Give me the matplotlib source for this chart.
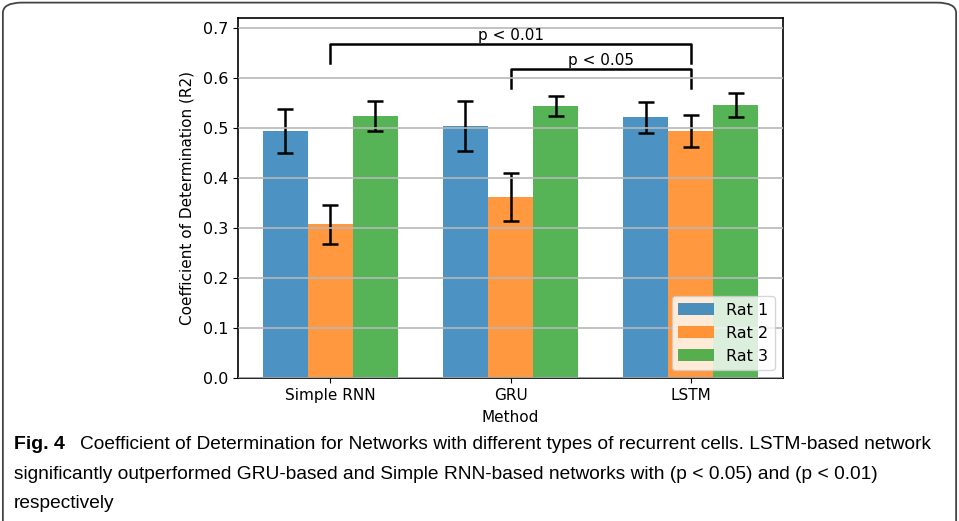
import numpy as np
import matplotlib
matplotlib.use("Agg")
import matplotlib.pyplot as plt
from matplotlib.patches import FancyBboxPatch

methods = ["Simple RNN", "GRU", "LSTM"]
rats = ["Rat 1", "Rat 2", "Rat 3"]
r2_mean = [
    [0.493, 0.504, 0.521],   # Rat 1
    [0.307, 0.361, 0.494],   # Rat 2
    [0.523, 0.544, 0.545],   # Rat 3
]
r2_err = [
    [0.044, 0.050, 0.031],
    [0.039, 0.048, 0.032],
    [0.030, 0.020, 0.024],
]
colors = ["#1f77b4", "#ff7f0e", "#2ca02c"]

fig = plt.figure(figsize=(9.59, 5.21), dpi=100)
ax = fig.add_axes([0.2482, 0.2745, 0.5683, 0.691])

x = np.arange(len(methods))
width = 0.25
for i, rat in enumerate(rats):
    ax.bar(x + (i - 1) * width, r2_mean[i], width, yerr=r2_err[i],
           color=colors[i], alpha=0.8, label=rat, capsize=5.5,
           error_kw=dict(elinewidth=1.8, capthick=1.8, ecolor="black"))

ax.set_ylim(0, 0.72)
ax.set_xticks(x)
ax.set_xticklabels(methods, fontsize=11, family="DejaVu Sans")
ax.tick_params(axis="y", labelsize=11.5)
ax.set_xlabel("Method", fontsize=11, labelpad=5, family="DejaVu Sans")
ax.set_ylabel("Coefficient of Determination (R2)", fontsize=11, labelpad=6, family="DejaVu Sans")
ax.yaxis.grid(True, color="#b8b8b8", linewidth=1.2)
ax.set_axisbelow(False)
for s in ax.spines.values():
    s.set_linewidth(1.2)

# significance brackets
def bracket(x0, x1, y, yl, yr, text):
    ax.plot([x0, x0, x1, x1], [yl, y, y, yr], color="black", lw=1.8)
    ax.text((x0 + x1) / 2, y + 0.002, text, ha="center", va="bottom", fontsize=11)

bracket(0, 2, 0.667, 0.630, 0.630, "p < 0.01")
bracket(1, 2, 0.617, 0.579, 0.579, "p < 0.05")

ax.legend(loc="lower right", fontsize=11.5, handlelength=2.2)

# figure frame and caption
frame = FancyBboxPatch((0.003, -0.02), 0.994, 1.015, boxstyle="round,pad=0,rounding_size=0.02",
                       transform=fig.transFigure, fill=False, edgecolor="#444444", lw=1.3)
fig.patches.append(frame)

cap_font = ["Liberation Sans", "DejaVu Sans"]
fig.text(0.0146, 0.146, "Fig. 4", fontsize=14, fontweight="bold", family=cap_font, va="center")
fig.text(0.0834, 0.146,
         "Coefficient of Determination for Networks with different types of recurrent cells. LSTM-based network",
         fontsize=13.8, family=cap_font, va="center")
fig.text(0.0146, 0.090,
         "significantly outperformed GRU-based and Simple RNN-based networks with (p < 0.05) and (p < 0.01)",
         fontsize=13.8, family=cap_font, va="center")
fig.text(0.0146, 0.034, "respectively", fontsize=13.8, family=cap_font, va="center")

fig.savefig("out.png", dpi=100)
